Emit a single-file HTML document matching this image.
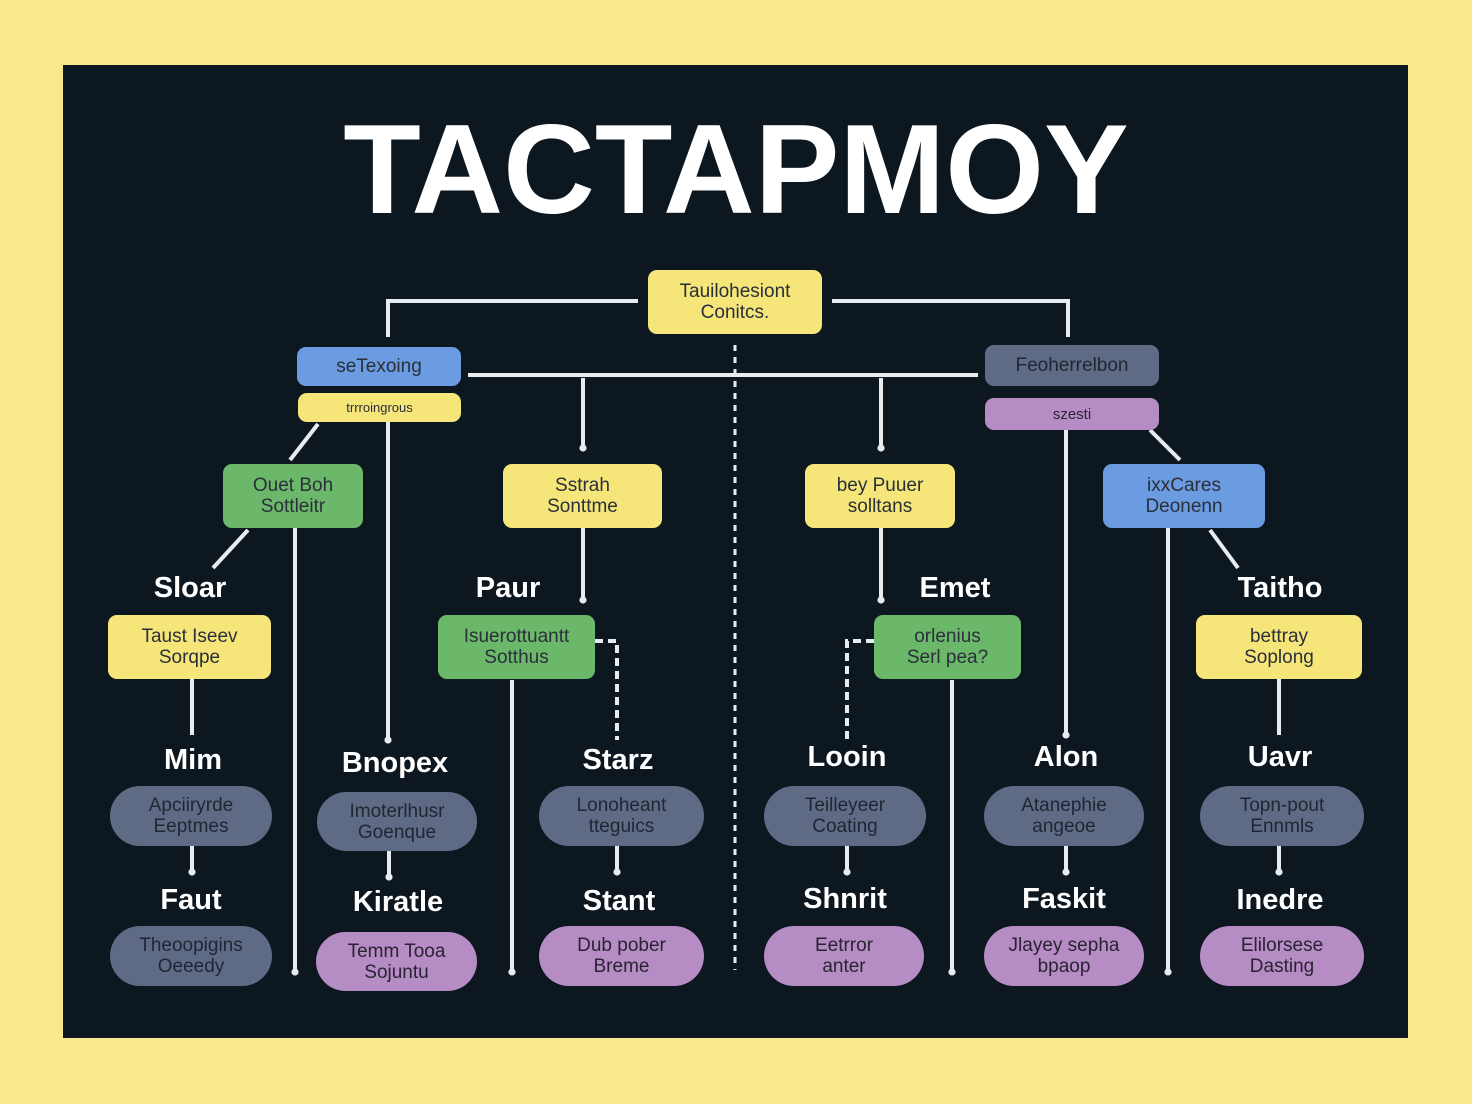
<!DOCTYPE html>
<html><head><meta charset="utf-8"><style>
body{margin:0;width:1472px;height:1104px;background:#f7e98c;position:relative;overflow:hidden;font-family:"Liberation Sans",sans-serif}
#p{position:absolute;left:63px;top:65px;width:1345px;height:973px;background:#0d1720}
.t{position:absolute;left:0;width:1472px;top:104px;text-align:center;color:#fff;font-weight:bold;font-size:127px;line-height:130px}
.b{position:absolute;display:flex;align-items:center;justify-content:center;text-align:center;font-size:19px;line-height:21px;color:#2a2f3a;border-radius:9px;box-sizing:border-box}
.y{background:#f6e679}.g{background:#6cb86a}.bl{background:#6b9be0}.gr{background:#5f6b85;color:#1f2633}.pu{background:#b68cc4;color:#2a2333}
.pill{border-radius:30px}
.l{position:absolute;color:#fff;font-weight:bold;font-size:29px;transform:translateX(-50%);white-space:nowrap;line-height:32px}
svg{position:absolute;left:0;top:0}
</style></head><body>
<div id="p"></div>
<div class="t">TACTAPMOY</div>
<svg width="1472" height="1104" stroke="#e8ecef" stroke-width="4" fill="none">
<defs><marker id="a" markerWidth="4" markerHeight="4" refX="2" refY="2" orient="auto"><circle cx="2" cy="2" r="0.9" fill="#e8ecef" stroke="none"/></marker></defs>
<polyline points="638,301 388,301 388,337"/>
<polyline points="832,301 1068,301 1068,337"/>
<line x1="735" y1="345" x2="735" y2="970" stroke-dasharray="6,6" stroke-width="3"/>
<line x1="468" y1="375" x2="978" y2="375"/>
<line x1="583" y1="378" x2="583" y2="448" marker-end="url(#a)"/><line x1="881" y1="378" x2="881" y2="448" marker-end="url(#a)"/>
<line x1="318" y1="424" x2="290" y2="460"/><line x1="1150" y1="430" x2="1180" y2="460"/>
<line x1="388" y1="422" x2="388" y2="740" marker-end="url(#a)"/><line x1="295" y1="528" x2="295" y2="972" marker-end="url(#a)"/>
<line x1="1066" y1="430" x2="1066" y2="735" marker-end="url(#a)"/><line x1="1168" y1="528" x2="1168" y2="972" marker-end="url(#a)"/>
<line x1="512" y1="680" x2="512" y2="972" marker-end="url(#a)"/><line x1="952" y1="680" x2="952" y2="972" marker-end="url(#a)"/>
<line x1="248" y1="530" x2="213" y2="568"/><line x1="1210" y1="530" x2="1238" y2="568"/>
<line x1="583" y1="528" x2="583" y2="600" marker-end="url(#a)"/><line x1="881" y1="528" x2="881" y2="600" marker-end="url(#a)"/>
<polyline points="595,641 617,641 617,740" stroke-dasharray="8,5"/>
<polyline points="874,641 847,641 847,740" stroke-dasharray="8,5"/>
<line x1="192" y1="679" x2="192" y2="735"/><line x1="1279" y1="679" x2="1279" y2="735"/>
<g marker-end="url(#a)">
<line x1="192" y1="846" x2="192" y2="872"/><line x1="389" y1="851" x2="389" y2="877"/>
<line x1="617" y1="846" x2="617" y2="872"/><line x1="847" y1="846" x2="847" y2="872"/>
<line x1="1066" y1="846" x2="1066" y2="872"/><line x1="1279" y1="846" x2="1279" y2="872"/>
</g>
</svg>
<div class="b y" style="left:648px;top:270px;width:174px;height:64px">Tauilohesiont<br>Conitcs.</div>
<div class="b bl" style="left:297px;top:347px;width:164px;height:39px">seTexoing</div>
<div class="b y" style="left:298px;top:393px;width:163px;height:29px;font-size:13px">trrroingrous</div>
<div class="b gr" style="left:985px;top:345px;width:174px;height:41px">Feoherrelbon</div>
<div class="b pu" style="left:985px;top:398px;width:174px;height:32px;font-size:15px">szesti</div>
<div class="b g" style="left:223px;top:464px;width:140px;height:64px">Ouet Boh<br>Sottleitr</div>
<div class="b y" style="left:503px;top:464px;width:159px;height:64px">Sstrah<br>Sonttme</div>
<div class="b y" style="left:805px;top:464px;width:150px;height:64px">bey Puuer<br>solltans</div>
<div class="b bl" style="left:1103px;top:464px;width:162px;height:64px">ixxCares<br>Deonenn</div>
<div class="l" style="left:190px;top:572px">Sloar</div>
<div class="l" style="left:508px;top:572px">Paur</div>
<div class="l" style="left:955px;top:572px">Emet</div>
<div class="l" style="left:1280px;top:572px">Taitho</div>
<div class="b y" style="left:108px;top:615px;width:163px;height:64px">Taust Iseev<br>Sorqpe</div>
<div class="b g" style="left:438px;top:615px;width:157px;height:64px">Isuerottuantt<br>Sotthus</div>
<div class="b g" style="left:874px;top:615px;width:147px;height:64px">orlenius<br>Serl pea?</div>
<div class="b y" style="left:1196px;top:615px;width:166px;height:64px">bettray<br>Soplong</div>
<div class="l" style="left:193px;top:744px">Mim</div>
<div class="l" style="left:395px;top:747px">Bnopex</div>
<div class="l" style="left:618px;top:744px">Starz</div>
<div class="l" style="left:847px;top:741px">Looin</div>
<div class="l" style="left:1066px;top:741px">Alon</div>
<div class="l" style="left:1280px;top:741px">Uavr</div>
<div class="b gr pill" style="left:110px;top:786px;width:162px;height:60px">Apciiryrde<br>Eeptmes</div>
<div class="b gr pill" style="left:317px;top:792px;width:160px;height:59px">Imoterlhusr<br>Goenque</div>
<div class="b gr pill" style="left:539px;top:786px;width:165px;height:60px">Lonoheant<br>tteguics</div>
<div class="b gr pill" style="left:764px;top:786px;width:162px;height:60px">Teilleyeer<br>Coating</div>
<div class="b gr pill" style="left:984px;top:786px;width:160px;height:60px">Atanephie<br>angeoe</div>
<div class="b gr pill" style="left:1200px;top:786px;width:164px;height:60px">Topn-pout<br>Ennmls</div>
<div class="l" style="left:191px;top:884px">Faut</div>
<div class="l" style="left:398px;top:886px">Kiratle</div>
<div class="l" style="left:619px;top:885px">Stant</div>
<div class="l" style="left:845px;top:883px">Shnrit</div>
<div class="l" style="left:1064px;top:883px">Faskit</div>
<div class="l" style="left:1280px;top:884px">Inedre</div>
<div class="b gr pill" style="left:110px;top:926px;width:162px;height:60px">Theoopigins<br>Oeeedy</div>
<div class="b pu pill" style="left:316px;top:932px;width:161px;height:59px">Temm Tooa<br>Sojuntu</div>
<div class="b pu pill" style="left:539px;top:926px;width:165px;height:60px">Dub pober<br>Breme</div>
<div class="b pu pill" style="left:764px;top:926px;width:160px;height:60px">Eetrror<br>anter</div>
<div class="b pu pill" style="left:984px;top:926px;width:160px;height:60px">Jlayey sepha<br>bpaop</div>
<div class="b pu pill" style="left:1200px;top:926px;width:164px;height:60px">Elilorsese<br>Dasting</div>
</body></html>
